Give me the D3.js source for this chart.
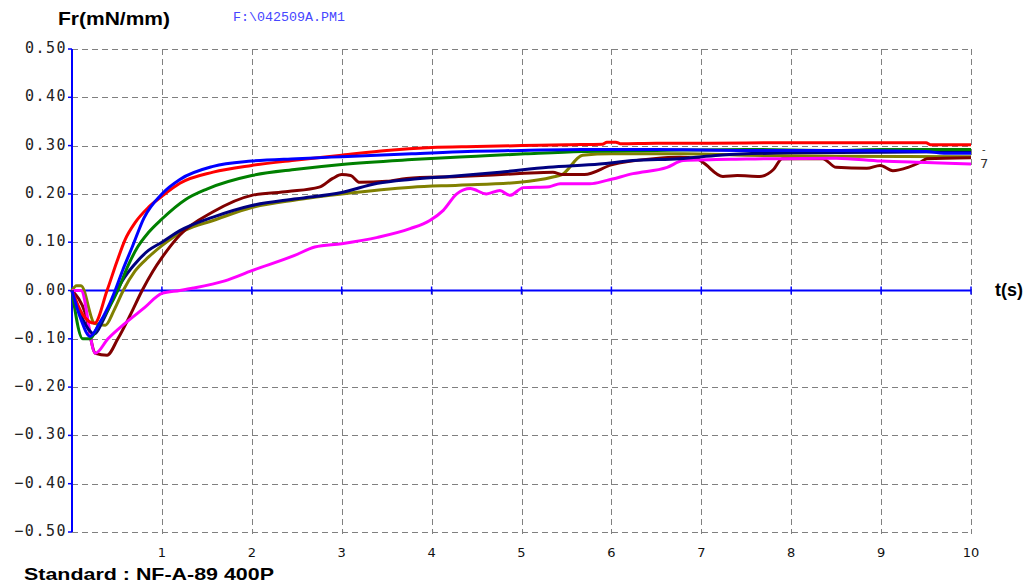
<!DOCTYPE html>
<html>
<head>
<meta charset="utf-8">
<script src="https://cdn.jsdelivr.net/npm/d3@7"></script>
<style>
  body { margin: 0; background: #fff; }
  svg { display: block; }
</style>
</head>
<body>
<div id="vis"></div>
<script>
// ticks
var xTicks = [1, 2, 3, 4, 5, 6, 7, 8, 9, 10];
var yTicks = [0.5, 0.4, 0.3, 0.2, 0.1, 0, -0.1, -0.2, -0.3, -0.4, -0.5];

// series, [t (s), Fr (mN/mm)]
var red = [[0,0],[0.12,-0.05],[0.25,-0.068],[0.39,0],[0.5,0.06],[0.59,0.105],[0.7,0.14],[0.85,0.172],[1,0.195],[1.2,0.222],[1.57,0.245],[2,0.259],[2.5,0.27],[3,0.28],[3.5,0.29],[4,0.296],[4.5,0.298],[5,0.3],[5.5,0.302],[5.9,0.303],[5.95,0.307],[6.05,0.307],[6.1,0.304],[6.5,0.305],[7,0.305],[8,0.306],[9,0.306],[9.5,0.306],[9.55,0.302],[10,0.302]];
var blue = [[0,0],[0.1,-0.06],[0.2,-0.095],[0.3,-0.07],[0.4,-0.035],[0.48,0],[0.57,0.045],[0.67,0.09],[0.8,0.15],[1,0.2],[1.2,0.23],[1.57,0.257],[2,0.268],[2.5,0.273],[3,0.277],[3.78,0.283],[4.4,0.288],[5,0.29],[5.67,0.292],[6.5,0.292],[7.5,0.29],[8.5,0.29],[9.5,0.288],[9.7,0.284],[10,0.284]];
var green = [[0,0],[0.12,-0.1],[0.2,-0.1],[0.3,-0.07],[0.4,-0.04],[0.51,0],[0.62,0.05],[0.73,0.09],[0.85,0.12],[1,0.148],[1.26,0.188],[1.5,0.21],[2,0.238],[2.5,0.251],[3,0.261],[3.78,0.271],[4.5,0.278],[5.04,0.283],[5.67,0.288],[6.5,0.29],[7.5,0.292],[8.5,0.29],[9,0.292],[10,0.292]];
var navy = [[0,0],[0.12,-0.06],[0.25,-0.09],[0.35,-0.06],[0.45,-0.02],[0.56,0.02],[0.7,0.055],[0.85,0.083],[1,0.1],[1.2,0.124],[1.57,0.152],[2,0.176],[2.5,0.19],[3,0.203],[3.4,0.222],[3.76,0.23],[4.2,0.236],[4.76,0.245],[5.3,0.255],[5.87,0.262],[6.24,0.269],[6.76,0.273],[7.2,0.28],[8,0.285],[9,0.286],[10,0.288]];
var maroon = [[0,0],[0.15,-0.048],[0.26,-0.13],[0.39,-0.134],[0.51,-0.1],[0.65,-0.05],[0.78,0],[0.9,0.04],[1,0.068],[1.2,0.115],[1.57,0.163],[2,0.197],[2.4,0.205],[2.75,0.214],[2.9,0.232],[3,0.24],[3.1,0.238],[3.2,0.224],[3.5,0.226],[3.72,0.232],[4.3,0.236],[4.98,0.242],[5.35,0.245],[5.45,0.24],[5.7,0.24],[6,0.26],[6.47,0.273],[6.76,0.276],[6.95,0.273],[7.02,0.265],[7.24,0.236],[7.4,0.238],[7.65,0.236],[7.8,0.25],[7.9,0.273],[8.35,0.273],[8.5,0.255],[8.84,0.253],[8.99,0.259],[9.13,0.248],[9.3,0.255],[9.43,0.265],[9.51,0.273],[10,0.275]];
var olive = [[0,0],[0.05,0.01],[0.1,0.01],[0.25,-0.068],[0.37,-0.072],[0.47,-0.04],[0.57,0],[0.7,0.04],[0.85,0.069],[1,0.093],[1.26,0.125],[1.57,0.145],[2,0.172],[2.5,0.188],[3,0.2],[3.78,0.214],[4.3,0.218],[4.98,0.224],[5.35,0.235],[5.45,0.24],[5.68,0.28],[6,0.283],[6.8,0.283],[7.5,0.28],[8.5,0.278],[10,0.277]];
var magenta = [[0,0],[0.1,0],[0.26,-0.13],[0.4,-0.1],[0.59,-0.068],[0.81,-0.035],[1,-0.006],[1.2,0],[1.35,0.005],[1.7,0.02],[2,0.041],[2.47,0.072],[2.7,0.09],[3,0.097],[3.4,0.11],[3.76,0.128],[3.98,0.145],[4.13,0.166],[4.28,0.2],[4.43,0.211],[4.61,0.2],[4.76,0.207],[4.87,0.197],[5.02,0.213],[5.31,0.215],[5.43,0.221],[5.76,0.221],[5.95,0.228],[6.24,0.242],[6.62,0.255],[6.8,0.269],[7.5,0.272],[8.5,0.274],[9,0.268],[9.5,0.265],[10,0.262]];

var series = [
  { name: 'olive', color: '#808000', values: olive },
  { name: 'maroon', color: '#800000', values: maroon },
  { name: 'magenta', color: '#ff00ff', values: magenta },
  { name: 'navy', color: '#000080', values: navy },
  { name: 'green', color: '#008000', values: green },
  { name: 'red', color: '#ff0000', values: red },
  { name: 'blue', color: '#0000ff', values: blue }
];

var width = 1029, height = 587;

var x = d3.scaleLinear().domain([0, 10]).range([72, 971]);
var y = d3.scaleLinear().domain([-0.5, 0.5]).range([532, 49]);

var svg = d3.select('#vis').append('svg')
  .attr('width', width)
  .attr('height', height);

// dashed grid
svg.append('g').selectAll('line.h')
  .data(yTicks.filter(function (d) { return d !== 0; }))
  .enter().append('line')
  .attr('x1', x(0)).attr('x2', x(10))
  .attr('y1', function (d) { return Math.round(y(d)) + 0.5; })
  .attr('y2', function (d) { return Math.round(y(d)) + 0.5; })
  .attr('stroke', '#808080').attr('stroke-width', 1)
  .attr('stroke-dasharray', '6,4');

svg.append('g').selectAll('line.v')
  .data(xTicks)
  .enter().append('line')
  .attr('x1', function (d) { return Math.round(x(d)) + 0.5; })
  .attr('x2', function (d) { return Math.round(x(d)) + 0.5; })
  .attr('y1', y(0.5)).attr('y2', y(-0.5) + 2)
  .attr('stroke', '#808080').attr('stroke-width', 1)
  .attr('stroke-dasharray', '6,4');

// zero line and y axis
svg.append('line')
  .attr('x1', x(0)).attr('x2', x(10))
  .attr('y1', y(0)).attr('y2', y(0))
  .attr('stroke', '#0000ff').attr('stroke-width', 2);

svg.append('line')
  .attr('x1', x(0)).attr('x2', x(0))
  .attr('y1', y(0.5)).attr('y2', y(-0.5))
  .attr('stroke', '#0000ff').attr('stroke-width', 2);

// small ticks on the axes
svg.append('g').selectAll('line')
  .data(yTicks)
  .enter().append('line')
  .attr('x1', x(0) - 4).attr('x2', x(0))
  .attr('y1', function (d) { return y(d); })
  .attr('y2', function (d) { return y(d); })
  .attr('stroke', '#0000ff').attr('stroke-width', 1.5);

svg.append('g').selectAll('line')
  .data(xTicks)
  .enter().append('line')
  .attr('x1', function (d) { return x(d); })
  .attr('x2', function (d) { return x(d); })
  .attr('y1', y(0) - 4).attr('y2', y(0) + 4)
  .attr('stroke', '#0000ff').attr('stroke-width', 1.5);

// tick labels
svg.append('g').selectAll('text')
  .data(yTicks)
  .enter().append('text')
  .attr('x', x(0) - 5)
  .attr('y', function (d) { return y(d) + 4; })
  .attr('text-anchor', 'end')
  .style('font-family', '"DejaVu Sans Mono", monospace')
  .style('font-size', '15px')
  .style('letter-spacing', '1.5px')
  .attr('fill', '#222')
  .text(function (d) { return d3.format('.2f')(d); });

svg.append('g').selectAll('text')
  .data(xTicks)
  .enter().append('text')
  .attr('x', function (d) { return x(d); })
  .attr('y', 557)
  .attr('text-anchor', 'middle')
  .style('font-family', '"DejaVu Sans", sans-serif')
  .style('font-size', '13px')
  .attr('fill', '#111')
  .text(function (d) { return d; });

// curves
var line = d3.line()
  .curve(d3.curveMonotoneX)
  .x(function (d) { return x(d[0]); })
  .y(function (d) { return y(d[1]); });

svg.append('g').selectAll('path')
  .data(series)
  .enter().append('path')
  .attr('d', function (d) { return line(d.values); })
  .attr('fill', 'none')
  .attr('stroke', function (d) { return d.color; })
  .attr('stroke-width', 3)
  .attr('stroke-linejoin', 'round');

// titles
svg.append('text')
  .attr('x', 58).attr('y', 25)
  .style('font-family', '"Liberation Sans", Arial, sans-serif')
  .style('font-weight', 'bold')
  .style('font-size', '18px')
  .attr('textLength', 112).attr('lengthAdjust', 'spacingAndGlyphs')
  .text('Fr(mN/mm)');

svg.append('text')
  .attr('x', 233).attr('y', 21)
  .style('font-family', '"Liberation Mono", "Courier New", monospace')
  .style('font-size', '13px')
  .attr('fill', '#4646ff')
  .attr('textLength', 112).attr('lengthAdjust', 'spacingAndGlyphs')
  .text('F:\\042509A.PM1');

svg.append('text')
  .attr('x', 995).attr('y', 296)
  .style('font-family', '"Liberation Sans", Arial, sans-serif')
  .style('font-weight', 'bold')
  .style('font-size', '18px')
  .text('t(s)');

svg.append('text')
  .attr('x', 24).attr('y', 580)
  .style('font-family', '"Liberation Sans", Arial, sans-serif')
  .style('font-weight', 'bold')
  .style('font-size', '17px')
  .attr('textLength', 250).attr('lengthAdjust', 'spacingAndGlyphs')
  .text('Standard : NF-A-89 400P');

// curve count marker at the right end
svg.append('text')
  .attr('x', 980).attr('y', 168)
  .style('font-family', '"DejaVu Sans", sans-serif')
  .style('font-size', '13px')
  .attr('fill', '#333')
  .text('7');
svg.append('text')
  .attr('x', 982).attr('y', 153)
  .style('font-family', '"DejaVu Sans", sans-serif')
  .style('font-size', '10px')
  .attr('fill', '#333')
  .text('-');
</script>
</body>
</html>
